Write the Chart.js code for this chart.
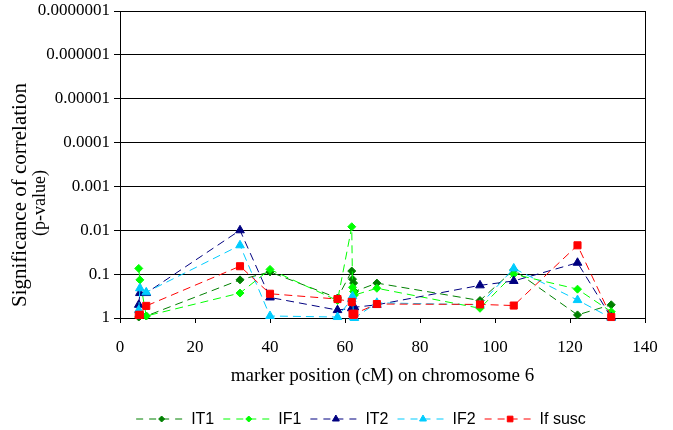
<!DOCTYPE html>
<html lang="en">
<head>
<meta charset="UTF-8">
<title>Significance of correlation along chromosome 6</title>
<script src="https://cdn.jsdelivr.net/npm/chart.js"></script>
<style>
    body { margin: 0; background: #fff; }
    #wrap { width: 673px; height: 430px; }
</style>
</head>
<body>
<div id="wrap"><canvas id="chart"></canvas></div>
<script>
// marker positions (cM) and p-values per trait
const positions = [5, 5.3, 7, 32, 40, 58, 61.8, 62, 62.3, 62.5, 68.5, 96, 105, 122, 131];
const it1   = [0.95, 0.9, 0.9, 0.135, 0.089, 0.35, 0.085, 0.13, 0.16, 0.25, 0.16, 0.4, 0.08, 0.85, 0.5];
const if1   = [0.074, 0.135, 0.9, 0.27, 0.078, 0.4, 0.0083, 0.2, 0.25, 0.3, 0.21, 0.6, 0.1, 0.22, 0.72];
const it2   = [0.5, 0.27, 0.27, 0.01, 0.34, 0.66, 0.6, 0.57, 0.8, 0.57, 0.5, 0.18, 0.143, 0.055, 0.97];
const if2   = [0.66, 0.21, 0.26, 0.022, 0.9, 0.95, 0.37, 0.32, 0.95, 1.0, 0.45, 0.5, 0.074, 0.39, 1.0];
const ifSusc = [0.85, 0.85, 0.53, 0.066, 0.28, 0.37, 0.43, 0.8, 0.85, 0.8, 0.48, 0.49, 0.52, 0.022, 0.95];

const yTicks = [1, 0.1, 0.01, 0.001, 0.0001, 0.00001, 0.000001, 0.0000001];
const xTitle = 'marker position (cM) on chromosome 6';
const yTitle = ['Significance of correlation', '(p-value)'];

const serif = 'Liberation Serif';
const sans = 'Liberation Sans';

const series = [
    { label: 'IT1', values: it1, color: '#008000', marker: 'rectRot', size: 4 },
    { label: 'IF1', values: if1, color: '#00FF00', marker: 'rectRot', size: 4 },
    { label: 'IT2', values: it2, color: '#000080', marker: 'triangle', size: 5 },
    { label: 'IF2', values: if2, color: '#00CCFF', marker: 'triangle', size: 5 },
    { label: 'If susc', values: ifSusc, color: '#FF0000', marker: 'rect', size: 5 }
];

const fmtP = v => v >= 1 ? '1' : v.toFixed(Math.round(-Math.log10(v)));

// y axis title, drawn by hand so it sits where the original has it
const yTitlePlugin = {
    id: 'yTitle',
    afterDraw(chart) {
        const ctx = chart.ctx;
        ctx.save();
        ctx.fillStyle = '#000';
        ctx.textBaseline = 'middle';
        ctx.font = `21px "${serif}"`;
        ctx.translate(20, 307);
        ctx.rotate(-Math.PI / 2);
        ctx.textAlign = 'left';
        ctx.fillText(yTitle[0], 0, 0);
        ctx.restore();

        ctx.save();
        ctx.fillStyle = '#000';
        ctx.textBaseline = 'middle';
        ctx.font = `18px "${serif}"`;
        ctx.translate(40, 203);
        ctx.rotate(-Math.PI / 2);
        ctx.textAlign = 'center';
        ctx.fillText(yTitle[1], 0, 0);
        ctx.restore();
    }
};

// legend with dashed line and marker in the middle, like the Excel one
const legendPlugin = {
    id: 'dashLegend',
    afterDraw(chart) {
        const ctx = chart.ctx;
        const lineLen = 51, gap = 4, itemGap = 9, y = 419;
        ctx.save();
        ctx.font = `16px "${sans}"`;
        const widths = series.map(s => lineLen + gap + ctx.measureText(s.label).width);
        const total = widths.reduce((a, b) => a + b, 0) + itemGap * (series.length - 1);
        let x = 361 - total / 2;
        series.forEach((s, i) => {
            ctx.strokeStyle = s.color;
            ctx.lineWidth = 1;
            ctx.setLineDash([7, 6]);
            ctx.beginPath();
            ctx.moveTo(x, y);
            ctx.lineTo(x + lineLen, y);
            ctx.stroke();
            ctx.setLineDash([]);
            ctx.fillStyle = s.color;
            Chart.helpers.drawPoint(ctx, {
                pointStyle: s.marker, radius: s.size - 1, borderWidth: 1
            }, x + lineLen / 2, y);
            ctx.fillStyle = '#000';
            ctx.textAlign = 'left';
            ctx.textBaseline = 'middle';
            ctx.fillText(s.label, x + lineLen + gap, y + 1);
            x += widths[i] + itemGap;
        });
        ctx.restore();
    }
};

const datasets = series.map((s, i) => ({
    label: s.label,
    data: positions.map((p, j) => ({ x: p, y: s.values[j] })),
    borderColor: s.color,
    backgroundColor: s.color,
    borderWidth: 1,
    borderDash: [8, 5],
    pointStyle: s.marker,
    pointRadius: s.size,
    pointBorderWidth: 1,
    pointBackgroundColor: s.color,
    pointBorderColor: s.color,
    tension: 0,
    clip: false,
    order: series.length - 1 - i
}));

new Chart(document.getElementById('chart'), {
    type: 'line',
    data: { datasets },
    options: {
        responsive: true,
        maintainAspectRatio: false,
        animation: false,
        layout: { padding: { left: 0, right: 28, top: 11, bottom: 35 } },
        plugins: {
            legend: { display: false },
            tooltip: { enabled: false }
        },
        scales: {
            x: {
                type: 'linear',
                min: 0,
                max: 140,
                afterFit: scale => { scale.height = 77; },
                ticks: {
                    stepSize: 20,
                    color: '#000',
                    padding: 14,
                    font: { family: serif, size: 17 }
                },
                grid: {
                    color: ctx => ctx.tick && ctx.tick.value === 140 ? '#000' : 'rgba(0,0,0,0)',
                    tickColor: '#000',
                    tickLength: 5,
                    lineWidth: 1
                },
                border: { color: '#000', width: 1 },
                title: {
                    display: true,
                    text: xTitle,
                    color: '#000',
                    font: { family: serif, size: 19 },
                    padding: { top: 0, bottom: 8 }
                }
            },
            y: {
                type: 'logarithmic',
                reverse: true,
                min: 0.0000001,
                max: 1,
                afterFit: scale => {
                    scale.width = 120;
                    scale.paddingTop = 0;
                    scale.paddingBottom = 0;
                },
                afterBuildTicks: scale => {
                    scale.ticks = yTicks.map(v => ({ value: v }));
                },
                ticks: {
                    color: '#000',
                    padding: 4,
                    autoSkip: false,
                    font: { family: serif, size: 17 },
                    callback: v => fmtP(v)
                },
                grid: {
                    color: '#000',
                    tickColor: '#000',
                    tickLength: 6,
                    lineWidth: 1
                },
                border: { color: '#000', width: 1 }
            }
        }
    },
    plugins: [yTitlePlugin, legendPlugin]
});
</script>
</body>
</html>
